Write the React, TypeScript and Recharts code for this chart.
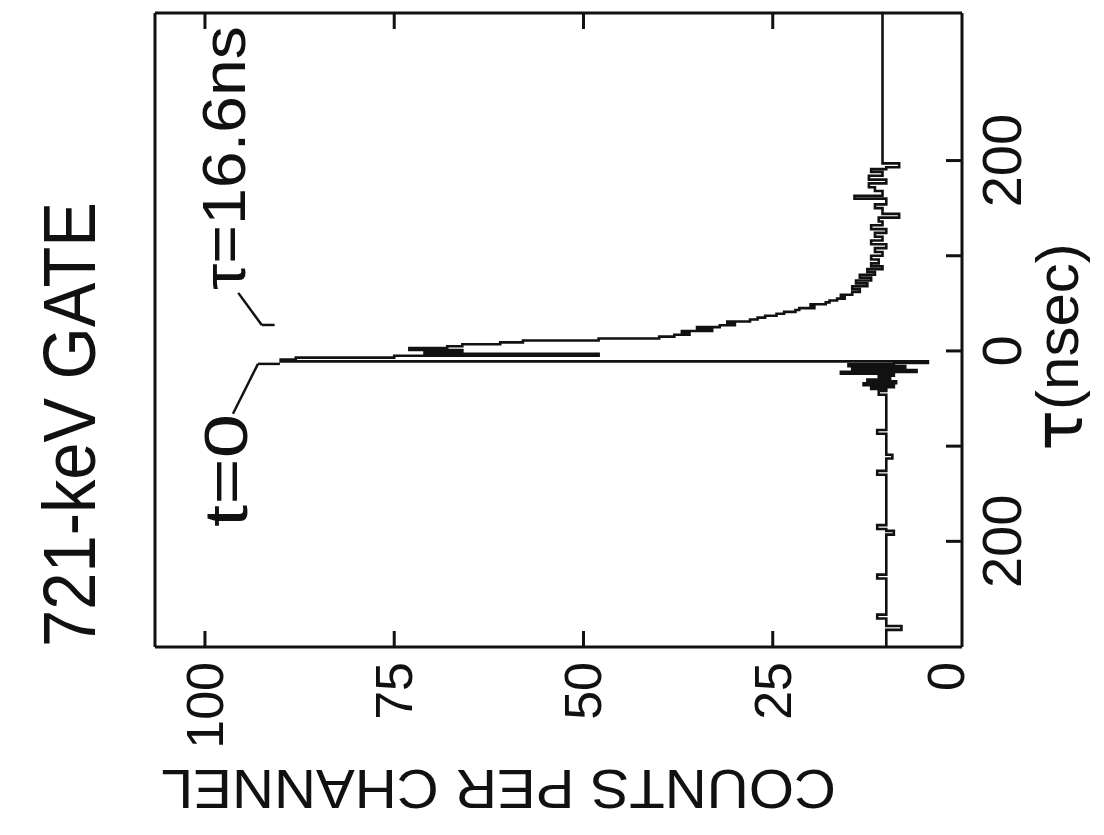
import React from "react";
import {
  ComposedChart,
  Line,
  XAxis,
  YAxis,
  ReferenceLine,
  ReferenceDot,
  Label,
} from "recharts";

// time (ns) where each histogram step starts, and the counts held until the next one
const tauNs = [
  -311, -293, -289, -281, -277, -239, -235, -193, -189, -187, -183, -130, -126,
  -113, -109, -87, -83, -46, -42, -40, -38, -36, -34, -32, -30, -28, -26, -24,
  -22, -20, -18, -16, -14, -12.5, -11, -9, -7, -5, -3, -1, 1, 3, 5, 7, 9, 11,
  13, 15, 17, 19, 21, 23, 25, 27, 29, 31, 33, 35, 37, 39, 41, 43, 45, 47, 49,
  51, 53, 55, 57, 59, 62, 65, 68, 71, 74, 77, 80, 83, 86, 89, 92, 96, 100, 104,
  108, 112, 116, 120, 124, 128, 132, 136, 140, 144, 150, 154, 160, 163, 168,
  172, 176, 180, 184, 188, 191, 193, 197, 355,
];
const counts = [
  10, 8, 10, 11.2, 10, 11.2, 10, 9, 10, 11.2, 10, 11.2, 10,
  9.2, 10, 11.2, 10, 11, 10, 12, 9, 13, 8.7, 12.5, 9.5, 11, 9, 16,
  6, 14.5, 7.5, 15, 9, 4.5, 90, 88, 75, 48, 71, 66, 73, 68, 66, 61, 58, 48,
  40, 38, 36, 37, 33, 35, 32, 30, 31, 28, 27, 26, 24.5, 23.5, 22, 21.5, 19.5, 20, 18,
  17.5, 16.5, 15.5, 16, 14.5, 13.5, 14.5, 12.5, 14, 12, 13.5, 11.5, 12.5, 10.5, 12, 11, 12, 10.5, 11.5,
  10, 12, 10.5, 11.5, 10, 12, 10.5, 11, 8.3, 10.5, 11.5, 10, 14.2, 10.5, 11.5,
  12.3, 10, 12.3, 10.5, 12, 10, 8.3, 10.5, 10.5,
];

const tauTicks = [-200, -100, 0, 100, 200];
const tauLabelled = [-200, 0, 200];
const countTicks = [0, 25, 50, 75, 100];

const titleText = "721-keV GATE";
const countsTitle = "COUNTS PER CHANNEL";
const zeroNote = "t=0";
const lifetimeNote = "τ=16.6ns";

// leader lines from the notes to the peak, in (tau, counts)
const zeroLeader = [
  [-66, 96.3],
  [-13.6, 93],
  [-13.6, 90.1],
];
const lifetimeLeader = [
  [61, 95.6],
  [27.3, 92.5],
  [27.3, 90.8],
];

const data = tauNs.map((t, i) => ({ tau: t, counts: counts[i] }));

// the figure is drawn upright, then turned a quarter turn anticlockwise
const W = 835;
const H = 1104;
const PLOT_LEFT = 188;
const PLOT_RIGHT = 822;
const PLOT_TOP = 155;
const PLOT_BOTTOM = 962;
const INK = "#111";
const FONT = "'Liberation Sans', Arial, sans-serif";
const TICK_LEN = 16;

function TauTick(props: any) {
  const { x, payload } = props;
  const v = payload.value;
  return (
    <g>
      <line x1={x} x2={x} y1={PLOT_BOTTOM} y2={PLOT_BOTTOM - TICK_LEN} stroke={INK} strokeWidth={3} />
      {tauLabelled.includes(v) && (
        <text x={x} y={1021} textAnchor="middle" fontSize={56} fontFamily={FONT} fill={INK}>
          {Math.abs(v)}
        </text>
      )}
    </g>
  );
}

function CountTick(props: any) {
  const { y, payload } = props;
  const v = payload.value;
  return (
    <g>
      {v !== 0 && (
        <line x1={PLOT_LEFT} x2={PLOT_LEFT + TICK_LEN} y1={y} y2={y} stroke={INK} strokeWidth={3} />
      )}
      <text
        x={173}
        y={v === 0 ? y - 16 : y}
        textAnchor="end"
        dominantBaseline="central"
        fontSize={52}
        fontFamily={FONT}
        fill={INK}
      >
        {v}
      </text>
    </g>
  );
}

function CountRightTick(props: any) {
  const { y, payload } = props;
  if (payload.value === 0) return <g />;
  return <line x1={PLOT_RIGHT} x2={PLOT_RIGHT - TICK_LEN} y1={y} y2={y} stroke={INK} strokeWidth={3} />;
}

const noteLabel = (text: string, length: number) => (props: any) => {
  const vb = props.viewBox;
  return (
    <text
      x={vb.x}
      y={vb.y}
      fontSize={62}
      fontFamily={FONT}
      fill={INK}
      textLength={length}
      lengthAdjust="spacingAndGlyphs"
    >
      {text}
    </text>
  );
};

export default function App() {
  return (
    <div
      style={{
        position: "fixed",
        left: 0,
        top: 0,
        width: 1104,
        height: 835,
        overflow: "hidden",
        background: "#fff",
      }}
    >
      <div
        style={{
          position: "absolute",
          left: 0,
          top: 0,
          width: W,
          height: H,
          transformOrigin: "0 0",
          transform: `translate(0px, ${W}px) rotate(-90deg)`,
        }}
      >
        <ComposedChart width={W} height={H} data={data} margin={{ top: 0, right: 0, bottom: 0, left: 0 }}>
          <XAxis
            xAxisId="tau"
            dataKey="tau"
            type="number"
            orientation="bottom"
            domain={[-311, 355]}
            allowDataOverflow
            ticks={tauTicks}
            interval={0}
            height={H - PLOT_BOTTOM}
            axisLine={{ stroke: INK, strokeWidth: 3 }}
            tickLine={false}
            tick={(p: any) => <TauTick {...p} />}
          >
            <Label
              content={(props: any) => {
                const vb = props.viewBox;
                return (
                  <text
                    x={vb.x + 300}
                    y={vb.y + 116}
                    textAnchor="middle"
                    fontFamily={FONT}
                    fill={INK}
                    fontSize={60}
                  >
                    <tspan fontFamily="'DejaVu Sans', sans-serif" fontSize={68} dy={4}>
                      τ
                    </tspan>
                    <tspan dy={-4}>(nsec)</tspan>
                  </text>
                );
              }}
            />
          </XAxis>
          <XAxis
            xAxisId="tauTop"
            dataKey="tau"
            type="number"
            orientation="top"
            domain={[-311, 355]}
            allowDataOverflow
            height={PLOT_TOP}
            axisLine={{ stroke: INK, strokeWidth: 3 }}
            tickLine={false}
            tick={false}
          >
            <Label
              content={(props: any) => {
                const vb = props.viewBox;
                return (
                  <text
                    x={vb.x}
                    y={vb.y + 95}
                    fontFamily={FONT}
                    fill={INK}
                    fontSize={74}
                    textLength={445}
                    lengthAdjust="spacingAndGlyphs"
                  >
                    {titleText}
                  </text>
                );
              }}
            />
          </XAxis>
          <YAxis
            yAxisId="cnt"
            type="number"
            orientation="left"
            domain={[0, 106.6]}
            allowDataOverflow
            ticks={countTicks}
            interval={0}
            width={PLOT_LEFT}
            axisLine={{ stroke: INK, strokeWidth: 3 }}
            tickLine={false}
            tick={(p: any) => <CountTick {...p} />}
          >
            <Label
              content={(props: any) => {
                const vb = props.viewBox;
                const cx = vb.x + 65;
                const cy = vb.y + 343.5;
                return (
                  <text
                    x={cx}
                    y={cy}
                    transform={`rotate(-90 ${cx} ${cy})`}
                    textAnchor="middle"
                    fontFamily={FONT}
                    fill={INK}
                    fontSize={56}
                    textLength={675}
                    lengthAdjust="spacingAndGlyphs"
                  >
                    {countsTitle}
                  </text>
                );
              }}
            />
          </YAxis>
          <YAxis
            yAxisId="cntR"
            type="number"
            orientation="right"
            domain={[0, 106.6]}
            allowDataOverflow
            ticks={countTicks}
            interval={0}
            width={W - PLOT_RIGHT}
            axisLine={{ stroke: INK, strokeWidth: 3 }}
            tickLine={false}
            tick={(p: any) => <CountRightTick {...p} />}
          />
          <Line
            xAxisId="tau"
            yAxisId="cnt"
            dataKey="counts"
            type="stepAfter"
            stroke={INK}
            strokeWidth={2.6}
            dot={false}
            isAnimationActive={false}
          />
          {[zeroLeader, lifetimeLeader].map((pts, k) =>
            pts.slice(1).map((p, i) => (
              <ReferenceLine
                key={`${k}-${i}`}
                xAxisId="tau"
                yAxisId="cnt"
                segment={[
                  { x: pts[i][0], y: pts[i][1] },
                  { x: p[0], y: p[1] },
                ]}
                stroke={INK}
                strokeWidth={2.5}
              />
            ))
          )}
          <ReferenceDot
            xAxisId="tau"
            yAxisId="cnt"
            x={-184.8}
            y={94.45}
            r={0}
            fill="none"
            stroke="none"
            label={noteLabel(zeroNote, 113)}
          />
          <ReferenceDot
            xAxisId="tau"
            yAxisId="cnt"
            x={64}
            y={94.7}
            r={0}
            fill="none"
            stroke="none"
            label={noteLabel(lifetimeNote, 264)}
          />
        </ComposedChart>
      </div>
    </div>
  );
}
